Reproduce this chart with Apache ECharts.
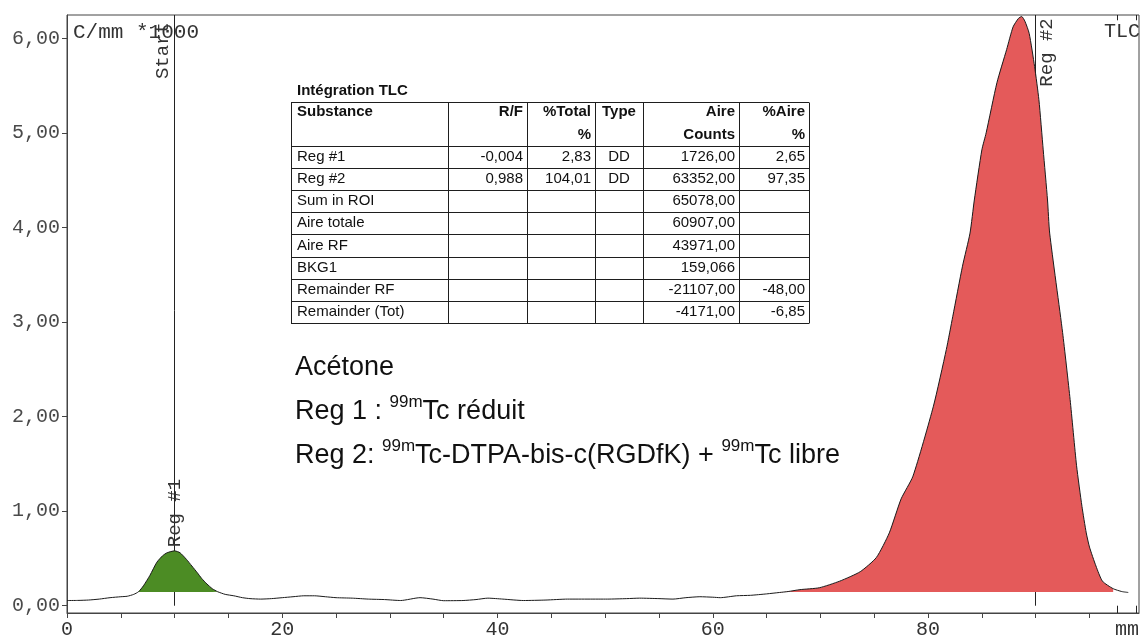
<!DOCTYPE html>
<html>
<head>
<meta charset="utf-8">
<script src="https://cdn.jsdelivr.net/npm/echarts@6/dist/echarts.min.js"></script>
<style>
html,body{margin:0;padding:0;background:#ffffff;}
#chart{width:1144px;height:640px;}
</style>
</head>
<body>
<div id="chart"></div>
<script>
// ---------------- DATA ----------------
// Radio-TLC scan: position along the strip (mm) and counts per mm (*1000)
const positionsMm = [0, 1, 2, 3, 4, 5, 5.6, 6.2, 6.65, 7.1, 7.7, 8.35, 8.9, 9.3, 10.0, 10.5, 11.1, 11.6, 12.1, 12.5, 13.0, 13.5, 14.0,
  14.7, 15.5, 16.3, 17.0, 18.0, 19.0, 20.0, 21.0, 22.0, 23.0, 24.0, 25.0, 26.5, 28.0, 29.5, 31.0, 32.8, 34.0, 35.0, 36.8, 38.0, 39.1,
  40.5, 42.4, 44.5, 46.5, 48.5, 50.2, 52.0, 53.2, 55.0, 56.3, 57.5, 58.8, 60.0, 60.7, 62.2, 63.5, 65.0, 66.2, 67.0, 68.1, 69.9,
  71.8, 73.7, 75.2, 76.4, 77.5, 78.6, 80.5, 81.7, 82.3, 83.2, 83.9, 84.3, 85.0, 85.4, 86.4, 87.3, 87.9, 88.4, 88.7, 89.0, 89.4,
  89.9, 90.3, 90.7, 91.1, 91.3, 92.5, 93.2, 93.8, 94.3, 94.7, 95.0, 95.6, 96.2, 97.2, 98.0, 98.6];
const countsPerMm = [0.055, 0.056, 0.06, 0.07, 0.085, 0.095, 0.10, 0.12, 0.148, 0.21, 0.32, 0.46, 0.53, 0.56, 0.58, 0.56, 0.49, 0.42, 0.35, 0.29, 0.23, 0.18, 0.148,
  0.12, 0.105, 0.085, 0.075, 0.07, 0.075, 0.085, 0.095, 0.105, 0.105, 0.095, 0.085, 0.08, 0.07, 0.065, 0.055, 0.085, 0.07, 0.053, 0.055, 0.065, 0.08,
  0.07, 0.055, 0.06, 0.07, 0.07, 0.07, 0.075, 0.08, 0.075, 0.07, 0.085, 0.095, 0.09, 0.085, 0.105, 0.11, 0.125, 0.14, 0.15, 0.17, 0.19,
  0.26, 0.36, 0.51, 0.77, 1.13, 1.37, 2.11, 2.71, 3.06, 3.59, 3.94, 4.29, 4.82, 5.0, 5.53, 5.88, 6.12, 6.21, 6.23, 6.18, 6.05,
  5.70, 5.35, 4.82, 4.29, 3.94, 2.89, 2.18, 1.48, 1.05, 0.77, 0.62, 0.42, 0.26, 0.18, 0.15, 0.14];

// integration regions (mm) and their background level
const reg1RangeMm = [6.65, 14.0];
const reg2RangeMm = [66.2, 97.2];
const regionBaseline = 0.145;

// vertical markers (mm)
const markerNames = ['Start', 'Reg #1', 'Reg #2'];
const startMm = 10;
const reg2Mm = 90;
const frontMarksMm = [97.6, 99.3];

// axis ticks
const xTickValues = [0, 5, 10, 15, 20, 25, 30, 35, 40, 45, 50, 55, 60, 65, 70, 75, 80, 85, 90, 95];
const xLabelValues = [0, 20, 40, 60, 80];
const yTickValues = [0, 1, 2, 3, 4, 5, 6];

// integration table
const tableTitle = 'Intégration TLC';
const headerLine1 = ['Substance', 'R/F', '%Total', 'Type', 'Aire', '%Aire'];
const headerLine2 = ['', '', '%', '', 'Counts', '%'];
const substances = ['Reg #1', 'Reg #2', 'Sum in ROI', 'Aire totale', 'Aire RF', 'BKG1', 'Remainder RF', 'Remainder (Tot)'];
const rfValues = ['-0,004', '0,988', '', '', '', '', '', ''];
const totalPct = ['2,83', '104,01', '', '', '', '', '', ''];
const types = ['DD', 'DD', '', '', '', '', '', ''];
const aireCounts = ['1726,00', '63352,00', '65078,00', '60907,00', '43971,00', '159,066', '-21107,00', '-4171,00'];
const airePct = ['2,65', '97,35', '', '', '', '', '-48,00', '-6,85'];

// notes
const noteLines = [
  'Acétone',
  'Reg 1 : {sup|99m}Tc réduit',
  'Reg 2: {sup|99m}Tc-DTPA-bis-c(RGDfK) + {sup|99m}Tc libre'
];

// ---------------- BUILD ----------------
const X_MIN = 0, X_MAX = 99.6, Y_MIN = -0.077, Y_MAX = 6.246;
const MONO = '"Liberation Mono", "DejaVu Sans Mono", monospace';
const SANS = '"Liberation Sans", Arial, sans-serif';

const curve = positionsMm.map((x, i) => [x, countsPerMm[i]]);
const inRange = (r) => curve.filter(p => p[0] >= r[0] - 1e-9 && p[0] <= r[1] + 1e-9);

const fmtY = v => v.toFixed(2).replace('.', ',');

// table layout
const colEdges = [291, 448, 527, 595, 643, 739, 809];
const colAlign = ['left', 'right', 'right', 'center', 'right', 'right'];
const tableTop = 101.5, headerBottom = 146, rowH = 22.1;
const tableBottom = headerBottom + rowH * substances.length;
const cols = [substances, rfValues, totalPct, types, aireCounts, airePct];

function cellX(c) {
  const a = colAlign[c];
  if (a === 'left') return colEdges[c] + 6;
  if (a === 'right') return colEdges[c + 1] - 4;
  return (colEdges[c] + colEdges[c + 1]) / 2;
}
const graphics = [];
const lineStyle = { stroke: '#1e1e1e', lineWidth: 1 };
const hYs = [tableTop, headerBottom];
for (let r = 1; r <= substances.length; r++) hYs.push(headerBottom + rowH * r);
hYs.forEach(y => graphics.push({ type: 'line', silent: true, shape: { x1: colEdges[0], y1: Math.round(y) + 0.5, x2: colEdges[colEdges.length - 1], y2: Math.round(y) + 0.5 }, style: lineStyle }));
colEdges.forEach(x => graphics.push({ type: 'line', silent: true, shape: { x1: x + 0.5, y1: Math.round(tableTop) + 0.5, x2: x + 0.5, y2: Math.round(tableBottom) + 0.5 }, style: lineStyle }));
function txt(text, x, y, align, font) {
  return { type: 'text', silent: true, style: { text: text, x: x, y: y, align: align, textAlign: align, verticalAlign: 'middle', textVerticalAlign: 'middle', font: font, fill: '#111' } };
}
graphics.push(txt(tableTitle, 297, 91, 'left', 'bold 15px ' + SANS));
headerLine1.forEach((t, c) => { if (t) graphics.push(txt(t, cellX(c), 112, colAlign[c], 'bold 15px ' + SANS)); });
headerLine2.forEach((t, c) => { if (t) graphics.push(txt(t, cellX(c), 135, colAlign[c], 'bold 15px ' + SANS)); });
cols.forEach((col, c) => col.forEach((t, r) => {
  if (t) graphics.push(txt(t, cellX(c), headerBottom + rowH * (r + 0.5), colAlign[c], '15px ' + SANS));
}));
// notes
const noteYs = [368, 412, 456];
noteLines.forEach((t, i) => graphics.push({
  type: 'text', silent: true,
  style: {
    text: t, x: 295, y: noteYs[i], align: 'left', textAlign: 'left', verticalAlign: 'middle', textVerticalAlign: 'middle',
    fontSize: 27, fontFamily: SANS, fill: '#111', lineHeight: 37,
    rich: { sup: { fontSize: 17, fontFamily: SANS, fill: '#111', lineHeight: 17, verticalAlign: 'top' } }
  }
}));
// plot corner texts
graphics.push({ type: 'text', silent: true, style: { text: 'C/mm *1000', x: 73, y: 32, align: 'left', textAlign: 'left', verticalAlign: 'middle', textVerticalAlign: 'middle', font: '21px ' + MONO, fill: '#333' } });
graphics.push({ type: 'text', silent: true, style: { text: 'TLC', x: 1140, y: 32, align: 'right', textAlign: 'right', verticalAlign: 'middle', textVerticalAlign: 'middle', font: '20px ' + MONO, fill: '#333' } });
graphics.push({ type: 'text', silent: true, style: { text: 'mm', x: 1115, y: 630, align: 'left', textAlign: 'left', verticalAlign: 'middle', textVerticalAlign: 'middle', font: '20px ' + MONO, fill: '#333' } });

const markLines = [
  [{ coord: [startMm, 0] }, { coord: [startMm, Y_MAX] }],
  [{ coord: [reg2Mm, 0] }, { coord: [reg2Mm, Y_MAX] }]
];
frontMarksMm.forEach(x => {
  markLines.push([{ coord: [x, Y_MAX] }, { coord: [x, 6.19] }]);
  markLines.push([{ coord: [x, 0] }, { coord: [x, Y_MIN] }]);
});

// offset is in the rotated label frame: local y points to screen right
const markerLabel = (name, x, y, dxScreen) => ({
  name: name, coord: [x, y], symbol: 'circle', symbolSize: 1, itemStyle: { color: 'rgba(0,0,0,0)' },
  label: { show: true, position: 'inside', rotate: 90, offset: [0, dxScreen], formatter: '{b}', color: '#333', fontFamily: MONO, fontSize: 19 }
});

const option = {
  animation: false,
  backgroundColor: '#ffffff',
  grid: { left: 67, right: 5, top: 15, bottom: 26, show: true, borderColor: '#444', borderWidth: 1, backgroundColor: 'transparent' },
  xAxis: {
    type: 'value', min: X_MIN, max: X_MAX,
    axisLine: { show: true, onZero: false, lineStyle: { color: '#444', width: 1 } },
    axisTick: { show: true, inside: false, length: 5, customValues: xTickValues, lineStyle: { color: '#444' } },
    axisLabel: { show: true, customValues: xLabelValues, margin: 7, color: '#333', fontFamily: MONO, fontSize: 20 },
    splitLine: { show: false }
  },
  yAxis: {
    type: 'value', min: Y_MIN, max: Y_MAX,
    axisLine: { show: true, onZero: false, lineStyle: { color: '#444', width: 1 } },
    axisTick: { show: true, inside: false, length: 5, customValues: yTickValues, lineStyle: { color: '#444' } },
    axisLabel: { show: true, customValues: yTickValues, margin: 7, color: '#4a4a4a', fontFamily: MONO, fontSize: 20, formatter: fmtY },
    splitLine: { show: false }
  },
  graphic: { elements: graphics },
  series: [
    {
      name: 'Reg #1 area', type: 'line', data: inRange(reg1RangeMm), showSymbol: false, silent: true, z: 2,
      smooth: 0.2, lineStyle: { width: 0, opacity: 0 },
      areaStyle: { color: '#4c8c24', opacity: 1, origin: regionBaseline }
    },
    {
      name: 'Reg #2 area', type: 'line', data: inRange(reg2RangeMm), showSymbol: false, silent: true, z: 2,
      smooth: 0.2, lineStyle: { width: 0, opacity: 0 },
      areaStyle: { color: '#e45a5a', opacity: 1, origin: regionBaseline }
    },
    {
      name: 'Scan', type: 'line', data: curve, showSymbol: false, silent: true, z: 3,
      smooth: 0.2, lineStyle: { color: '#1a1a1a', width: 1 },
      markLine: { silent: true, z: 1, symbol: ['none', 'none'], animation: false, label: { show: false },
        lineStyle: { color: '#222', width: 1, type: 'solid' }, emphasis: { disabled: true }, data: markLines },
      markPoint: { silent: true, animation: false, data: [
        markerLabel(markerNames[0], startMm, 5.87, -12),
        markerLabel(markerNames[1], startMm, 0.98, 0),
        markerLabel(markerNames[2], reg2Mm, 5.85, 11)
      ] }
    }
  ]
};

const chart = echarts.init(document.getElementById('chart'), null, { renderer: 'canvas' });
chart.setOption(option);
</script>
</body>
</html>
